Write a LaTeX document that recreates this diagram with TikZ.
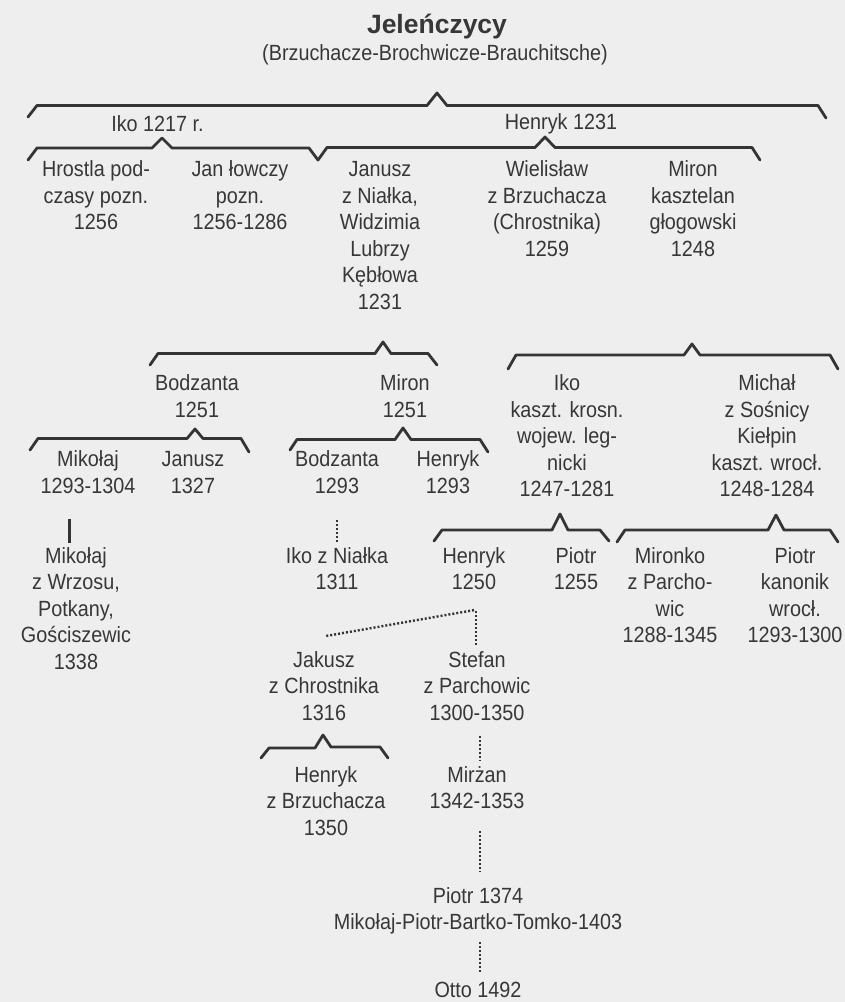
\documentclass[tikz,border=0pt]{standalone}
\usepackage{fontspec}
\setmainfont{Liberation Sans}[FakeStretch=0.9]
\newfontfamily\titlefont{Liberation Sans}
\usetikzlibrary{calc}
\definecolor{bgc}{RGB}{238,238,238}
\definecolor{txt}{RGB}{55,55,55}
\definecolor{ink}{RGB}{52,52,52}
\newcommand\Fl{\rule{0pt}{17pt}}
\begin{document}
\begin{tikzpicture}[x=1pt,y=-1pt,
  lbl/.style={align=center, inner sep=0pt, anchor=north, text=txt,
              font=\fontsize{22pt}{26.5pt}\selectfont},
  one/.style={inner sep=0pt, anchor=base, text=txt,
              font=\fontsize{22pt}{26.5pt}\selectfont},
  brace/.style={draw=ink, line width=2.8pt, line join=round, line cap=round},
  solidln/.style={draw=ink, line width=3pt},
  dotln/.style={draw=ink, line width=2.4pt, dash pattern=on 2pt off 2pt}]
\fill[bgc] (0,0) rectangle (845,1002);
\useasboundingbox (0,0) rectangle (845,1002);

% titles
\node[inner sep=0pt, anchor=base, text=txt, font=\titlefont\bfseries\fontsize{26.5pt}{30pt}\selectfont] (title) at (437,33) {Jeleńczycy};
\node[one] (sub) at (435,60) {(Brzuchacze-Brochwicze-Brauchitsche)};

% level 1
\node[one] (iko1217) at (157.5,131) {Iko 1217 r.};
\node[one] (hen1231) at (561,129) {Henryk 1231};

% level 2 (first baseline 176.5)
\node[lbl] (hrostla) at (96,159.5) {\Fl Hrostla pod-\\czasy pozn.\\1256};
\node[lbl] (jan) at (240,159.5) {\Fl Jan łowczy\\pozn.\\1256-1286};
\node[lbl] (janusz) at (380,159.5) {\Fl Janusz\\z Niałka,\\Widzimia\\Lubrzy\\Kębłowa\\1231};
\node[lbl] (wiel) at (547,159.5) {\Fl Wielisław\\z Brzuchacza\\(Chrostnika)\\1259};
\node[lbl] (miron) at (693,159.5) {\Fl Miron\\kasztelan\\głogowski\\1248};

% level 3 (first baseline 390.5)
\node[lbl] (bodz1251) at (197,373.5) {\Fl Bodzanta\\1251};
\node[lbl] (miron1251) at (405,373.5) {\Fl Miron\\1251};
\node[lbl] (iko1247) at (567,373.5) {\Fl Iko\\kaszt. krosn.\\wojew. leg-\\nicki\\1247-1281};
\node[lbl] (michal) at (767,373.5) {\Fl Michał\\z Sośnicy\\Kiełpin\\kaszt. wrocł.\\1248-1284};

% level 4 (first baseline 466.5)
\node[lbl] (mik1293) at (88,449.5) {\Fl Mikołaj\\1293-1304};
\node[lbl] (jan1327) at (193,449.5) {\Fl Janusz\\1327};
\node[lbl] (bodz1293) at (337,449.5) {\Fl Bodzanta\\1293};
\node[lbl] (hen1293) at (448,449.5) {\Fl Henryk\\1293};

% level 5 (first baseline 563)
\node[lbl] (mik1338) at (76,546) {\Fl Mikołaj\\z Wrzosu,\\Potkany,\\Gościszewic\\1338};
\node[lbl] (iko1311) at (337,546) {\Fl Iko z Niałka\\1311};
\node[lbl] (hen1250) at (474,546) {\Fl Henryk\\1250};
\node[lbl] (pio1255) at (576,546) {\Fl Piotr\\1255};
\node[lbl] (mironko) at (670,546) {\Fl Mironko\\z Parcho-\\wic\\1288-1345};
\node[lbl] (piokan) at (795,546) {\Fl Piotr\\kanonik\\wrocł.\\1293-1300};

% level 6 (first baseline 667)
\node[lbl] (jakusz) at (324,650) {\Fl Jakusz\\z Chrostnika\\1316};
\node[lbl] (stefan) at (477,650) {\Fl Stefan\\z Parchowic\\1300-1350};

% level 7 (first baseline 782)
\node[lbl] (hen1350) at (326,765) {\Fl Henryk\\z Brzuchacza\\1350};
\node[lbl] (mirzan) at (477,765) {\Fl Mirżan\\1342-1353};

% level 8
\node[lbl] (pio1374) at (478,886) {\Fl Piotr 1374\\Mikołaj-Piotr-Bartko-Tomko-1403};
\node[lbl] (otto) at (478,980) {\Fl Otto 1492};

% braces
\draw[brace] (28,117) -- (37,105.5) -- (427,105.5) -- (437,93) -- (447,105.5) -- (818,105.5) -- (826,118);
\draw[brace] (28,160) -- (37,148) -- (152,148) -- (162,138) -- (172,148) -- (309,148) -- (318,160)
  -- (327,147.5) -- (535,147.5) -- (545,137) -- (555,147.5) -- (752,147.5) -- (760,160);
\draw[brace] (150,365) -- (158,353.5) -- (375,353.5) -- (383,342) -- (391,353.5) -- (428,353.5) -- (437,365);
\draw[brace] (508,369) -- (516,355) -- (684,355) -- (692,344) -- (700,355) -- (830,355) -- (838,369);
\draw[brace] (30,450) -- (38,438.5) -- (187,438.5) -- (195,429) -- (203,438.5) -- (241,438.5) -- (249,452);
\draw[brace] (290,450) -- (297,439.5) -- (395,439.5) -- (403,428) -- (411,439.5) -- (480,439.5) -- (488,452);
\draw[brace] (434,541) -- (442,530) -- (552,530) -- (560,514) -- (568,530) -- (600,530) -- (609,541);
\draw[brace] (617,542) -- (625,530) -- (768,530) -- (776,515) -- (784,530) -- (830,530) -- (838,542);
\draw[brace] (261,758) -- (269,748) -- (315,748) -- (323,735) -- (331,747) -- (380,747) -- (388,758);

% connectors
\draw[solidln] ($(mik1293.south)+(-19,25)$) -- ($(mik1338.north)+(-7,-3)$);
\draw[dotln] ($(bodz1293.south)+(0,26)$) -- ($(iko1311.north)+(0,-4)$);
\draw[dotln] ($(hen1250.south)+(2,21)$) -- ($(stefan.north)+(-1,-5)$);
\draw[dotln] ($(hen1250.south)+(0,20)$) -- ($(jakusz.north)+(2,-14)$);
\draw[dotln] ($(stefan.south)+(3,15)$) -- ($(mirzan.north)+(3,-5)$);
\draw[dotln] ($(mirzan.south)+(3,22)$) -- ($(pio1374.north)+(2,-14)$);
\draw[dotln] ($(pio1374.south)+(2,8)$) -- ($(otto.north)+(2,-8)$);
\end{tikzpicture}
\end{document}
